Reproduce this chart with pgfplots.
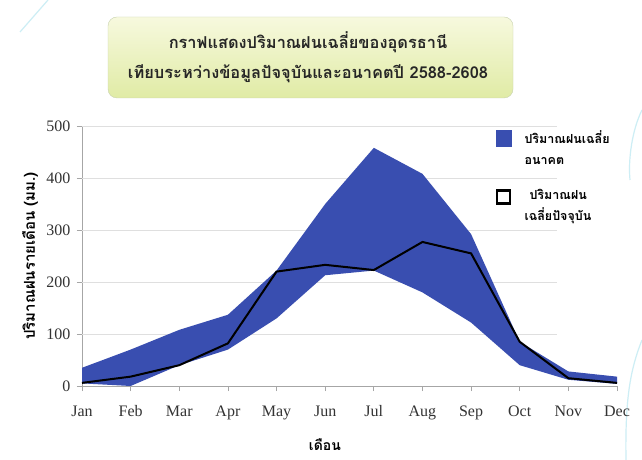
\documentclass[border=0pt]{standalone}
\usepackage{fontspec}
\setmainfont{Liberation Serif}
\newfontfamily\thai[Script=Thai]{Loma}
\usepackage{pgfplots}
\pgfplotsset{compat=1.18}
\definecolor{bandblue}{RGB}{57,78,176}
\definecolor{boxtop}{RGB}{247,249,222}
\definecolor{boxbot}{RGB}{224,235,165}
\definecolor{boxedge}{RGB}{200,210,175}
\definecolor{deco}{RGB}{205,238,245}
\begin{document}
\begin{tikzpicture}
\fill[white] (0pt,0pt) rectangle (642pt,460pt);
% faint decorative lines
\draw[deco, line width=1.2pt] (48pt,460pt) -- (20pt,428pt);
\draw[deco, line width=1.2pt] (642pt,120pt) .. controls (630pt,90pt) and (625pt,60pt) .. (626pt,0pt);
\draw[deco, line width=1.2pt] (642pt,350pt) .. controls (632pt,330pt) and (628pt,300pt) .. (630pt,280pt);
% title box
\shade[rounded corners=9pt, top color=boxtop, bottom color=boxbot, draw=boxedge] (108pt,443pt) rectangle (513pt,362pt);
\node[font=\thai\bfseries\fontsize{16.4}{19}\selectfont, text=black!85] at (308pt,418pt) {กราฟแสดงปริมาณฝนเฉลี่ยของอุดรธานี};
\node[font=\thai\bfseries\fontsize{16.4}{19}\selectfont, text=black!85] at (308pt,386pt) {เทียบระหว่างข้อมูลปัจจุบันและอนาคตปี 2588-2608};
\begin{axis}[
  at={(82pt,74pt)}, anchor=south west,
  scale only axis, width=535pt, height=260pt,
  xmin=0, xmax=11, ymin=0, ymax=500,
  axis lines*=left,
  axis line style={gray!70, line width=0.8pt},
  xtick={0,...,11},
  xticklabels={Jan,Feb,Mar,Apr,May,Jun,Jul,Aug,Sep,Oct,Nov,Dec},
  ytick={0,100,...,500},
  tick align=outside,
  major tick length=5pt,
  tick style={gray!70, line width=0.8pt},
  ticklabel style={font=\fontsize{16}{18}\selectfont, text=black!80},
  /pgf/number format/assume math mode=true,
  xticklabel style={yshift=-11pt},
  yticklabel style={xshift=-3pt},
  ylabel={\thai\bfseries ปริมาณฝนรายเดือน (มม.)},
  xlabel={\thai\bfseries เดือน},
  every axis y label/.style={at={(axis description cs:-0.097,0.5)}, rotate=90, anchor=center, font=\fontsize{15}{17}\selectfont},
  every axis x label/.style={at={(axis description cs:0.454,-0.227)}, anchor=center, font=\fontsize{14}{16}\selectfont},
  legend style={at={(axis description cs:0.767,0.998)}, anchor=north west, draw=none, fill=none,
    font=\thai\bfseries\fontsize{12.5}{21}\selectfont, cells={align=left, anchor=west}, row sep=19pt},
  clip=false,
]
\pgfplotsinvokeforeach{100,200,300,400,500}{
  \draw[gray!25, line width=0.8pt] (axis cs:0,#1) -- (axis cs:9.77,#1);
}
\addplot[fill=bandblue, draw=none, area legend,
  legend image code/.code={\fill[bandblue] (0pt,1pt) rectangle (16pt,18pt); \path (26pt,0pt);}]
  coordinates {(0,35) (1,70) (2,108) (3,137) (4,222) (5,350) (6,458) (7,408) (8,292) (9,85) (10,28) (11,18)
               (11,4) (10,12) (9,40) (8,122) (7,180) (6,222) (5,213) (4,130) (3,70) (2,40) (1,0) (0,5)} -- cycle;
\addlegendentry{ปริมาณฝนเฉลี่ย\\อนาคต}
\addplot[black, line width=2pt,
  legend image code/.code={\draw[black, line width=2.4pt, fill=white] (1.5pt,2pt) rectangle (14.5pt,15pt); \path (26pt,0pt);}]
  coordinates {(0,6) (1,18) (2,40) (3,82) (4,220) (5,233) (6,223) (7,277) (8,255) (9,85) (10,15) (11,6)};
\addlegendentry{\hspace*{5pt}ปริมาณฝน\\เฉลี่ยปัจจุบัน}
\end{axis}
\pgfresetboundingbox
\useasboundingbox (0pt,0pt) rectangle (642pt,460pt);
\end{tikzpicture}
\end{document}
